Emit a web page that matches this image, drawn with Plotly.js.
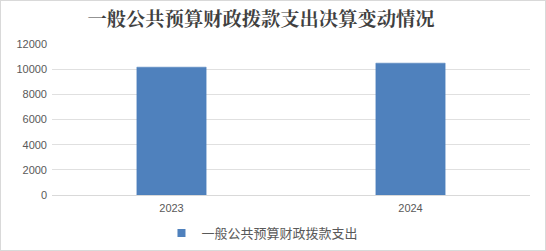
<!DOCTYPE html>
<html><head><meta charset="utf-8">
<script src="https://cdn.plot.ly/plotly-3.0.1.min.js"></script>
<style>html,body{margin:0;padding:0;background:#fff;}#c{width:544px;height:249px;border:1px solid #d9d9d9;}</style>
</head><body><div id="c"></div>
<script>
const categories = ['2023', '2024'];
const values = [10160, 10480];
const seriesName = '一般公共预算财政拨款支出';
const yTicks = [0, 2000, 4000, 6000, 8000, 10000, 12000];
const chartTitle = '一般公共预算财政拨款支出决算变动情况';
const barColor = '#4f81bd';

Plotly.newPlot('c', [{
  type: 'bar', x: categories, y: values, name: seriesName,
  marker: {color: barColor, line: {color: '#4a7ebb', width: 0.5}},
  showlegend: false
}, {
  type: 'scatter', mode: 'markers', x: [categories[0]], y: [null], name: seriesName,
  marker: {symbol: 'square', size: 8, color: barColor}, showlegend: true, hoverinfo: 'skip'
}], {
  width: 544, height: 249,
  margin: {l: 51, r: 15, t: 43, b: 55},
  paper_bgcolor: '#fff', plot_bgcolor: '#fff',
  bargap: 0.71,
  title: {text: chartTitle, x: 0.478, xanchor: 'center', y: 0.925, yanchor: 'middle',
    font: {family: 'Noto Serif CJK SC, Noto Sans CJK SC, serif', size: 19.3, color: '#404040', weight: 'bold'}},
  xaxis: {type: 'category', tickfont: {family: 'Liberation Sans, Arial', size: 11, color: '#595959'},
    showline: true, linecolor: '#d9d9d9', ticks: '', ticklabelstandoff: 3},
  yaxis: {range: [0, 12000], tickvals: yTicks, ticktext: yTicks.map(String), showgrid: true, gridcolor: '#e0e0e0',
    zeroline: false, tickfont: {family: 'Liberation Sans, Arial', size: 11, color: '#595959'}, ticklabelstandoff: 4},
  legend: {orientation: 'h', xref: 'container', yref: 'container', x: 0.295, xanchor: 'left', y: 0.068, yanchor: 'middle',
    font: {family: 'Noto Sans CJK SC', size: 13, color: '#595959'}},
  showlegend: true
}, {displayModeBar: false, staticPlot: true});
</script></body></html>
